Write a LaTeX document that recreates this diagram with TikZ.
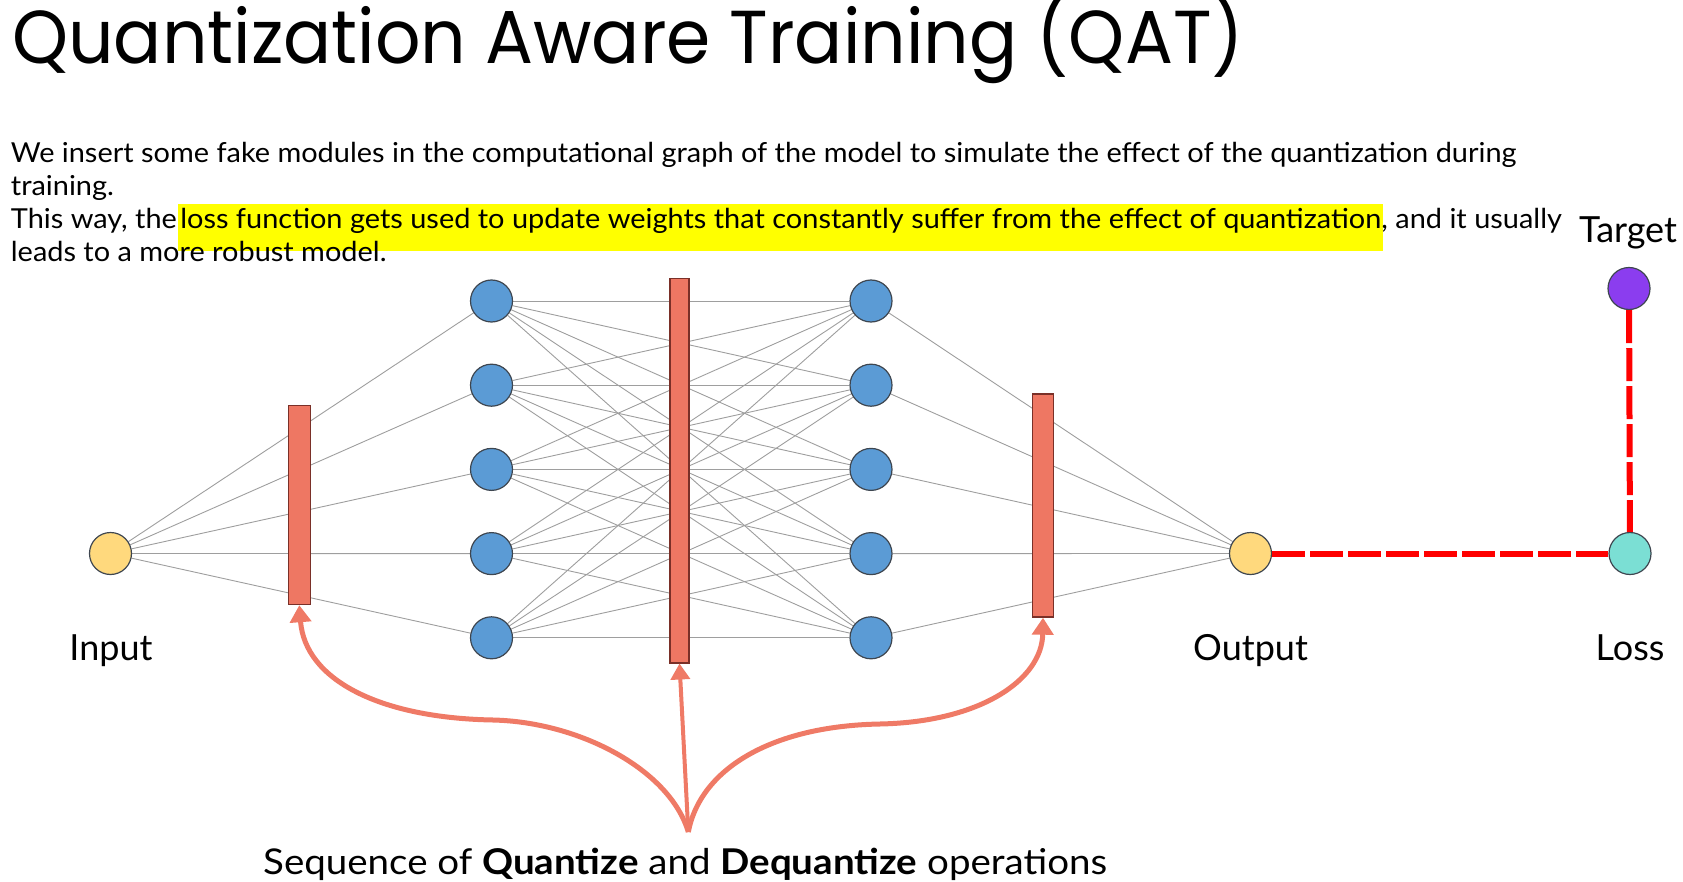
\documentclass[tikz,border=0pt]{standalone}
\usepackage{fontspec}
\setmainfont{Lato}
\newfontfamily\titlefont[FakeStretch=0.95]{Poppins}
\newfontfamily\bodyfont[FakeStretch=1.052]{Lato}
\newfontfamily\seqfont[FakeStretch=1.085]{Lato}
\usetikzlibrary{arrows.meta}
\definecolor{nodeblue}{HTML}{5B9BD5}
\definecolor{nodeborder}{HTML}{3E4650}
\definecolor{inyellow}{HTML}{FFD97D}
\definecolor{barfill}{HTML}{EE7763}
\definecolor{barborder}{HTML}{7A3028}
\definecolor{arrowcol}{HTML}{EF7A66}
\definecolor{tgtpurple}{HTML}{8B3DEF}
\definecolor{lossteal}{HTML}{7BDFD4}
\definecolor{edgegray}{HTML}{9E9E9E}
\definecolor{hlyellow}{HTML}{FFFF00}
\definecolor{lossred}{HTML}{FF0000}
\pgfdeclarelayer{bg}
\pgfsetlayers{bg,main}
\tikzset{
  neuron/.style={circle, draw=nodeborder, line width=1.2pt, minimum size=42pt, inner sep=0pt},
  hidden/.style={neuron, fill=nodeblue},
  ionode/.style={neuron, fill=inyellow},
  qbar/.style={rectangle, draw=barborder, fill=barfill, line width=1.4pt, inner sep=0pt},
  wire/.style={draw=edgegray, line width=0.9pt},
  qarrow/.style={draw=arrowcol, line width=5pt, -{Triangle[length=17pt,width=21pt]}},
  qarrowthin/.style={draw=arrowcol, line width=4pt, -{Triangle[length=16pt,width=19pt]}},
  lossline/.style={draw=lossred, line width=6pt, dash pattern=on 33pt off 5pt},
  bodytext/.style={anchor=base west, inner sep=0pt, font=\bodyfont\fontsize{27.5}{32}\selectfont},
  label/.style={anchor=base, inner sep=0pt, font=\fontsize{36}{40}\selectfont},
}
\begin{document}
\begin{tikzpicture}[x=1pt, y=-1pt]
\useasboundingbox (0,0) rectangle (1683,882);
% title
\node[anchor=base west, inner sep=0pt, font=\titlefont\fontsize{75}{80}\selectfont] (title) at (12,64) {Quantization Aware Training (QAT)};
% body text
\node[bodytext] (l1) at (10.7,163) {We insert some fake modules in the computational graph of the model to simulate the effect of the quantization during};
\node[bodytext] (l2) at (10.7,196) {training.};
\node[bodytext] (l3a) at (10.7,229) {This way, the};
\node[bodytext, fill=hlyellow, inner xsep=2pt, text height=25pt, text depth=22pt] (l3b) at ([xshift=1pt]l3a.base east) {loss function gets used to update weights that constantly suffer from the effect of quantization};
\node[bodytext] (l3c) at ([xshift=-2pt]l3b.base east) {, and it usually};
\node[bodytext] (l4) at (10.7,262) {leads to a more robust model.};
% neurons
\node[ionode] (in) at (110.5,553.5) {};
\foreach \i/\y in {1/301,2/385.2,3/469.4,4/553.6,5/637.8}{
  \node[hidden] (h1-\i) at (491.5,\y) {};
  \node[hidden] (h2-\i) at (871,\y) {};
}
\node[ionode] (out) at (1250.5,553.5) {};
\node[neuron, fill=lossteal] (loss) at (1630,553.5) {};
\node[neuron, fill=tgtpurple] (target) at (1629,288.5) {};
% quantization bars
\node[qbar, minimum width=22pt, minimum height=199pt] (q1) at (299.3,505) {};
\node[qbar, minimum width=19pt, minimum height=384pt] (q2) at (679.5,470.8) {};
\node[qbar, minimum width=21pt, minimum height=223pt] (q3) at (1043,505.5) {};
% wires
\begin{pgfonlayer}{bg}
\foreach \i in {1,...,5}{
  \draw[wire] (in) -- (h1-\i);
  \draw[wire] (h2-\i) -- (out);
  \foreach \j in {1,...,5}{
    \draw[wire] (h1-\i) -- (h2-\j);
  }
}
\end{pgfonlayer}
% loss connections
\draw[lossline] (out) -- (loss);
\draw[lossline] (target) -- (loss);
% labels
\node[label] (lin) at (111,660) {Input};
\node[label] (lout) at (1250.5,660) {Output};
\node[label] (lloss) at (1630,660) {Loss};
\node[label] (ltgt) at (1628,243) {Target};
\node[anchor=base west, inner sep=0pt, font=\seqfont\fontsize{35.5}{38}\selectfont] (seq) at (263,874) {Sequence of \textbf{Quantize} and \textbf{Dequantize} operations};
% arrows
\coordinate (src) at (688.3,832);
\draw[qarrow] (src) .. controls (670,770) and (580,722) .. (493,720) .. controls (380,718) and (305,680) .. (q1.south);
\draw[qarrow] (src) .. controls (700,770) and (770,726) .. (880,724) .. controls (980,722) and (1042,680) .. (q3.south);
\draw[qarrowthin] (src) -- (q2.south);
\end{tikzpicture}
\end{document}
